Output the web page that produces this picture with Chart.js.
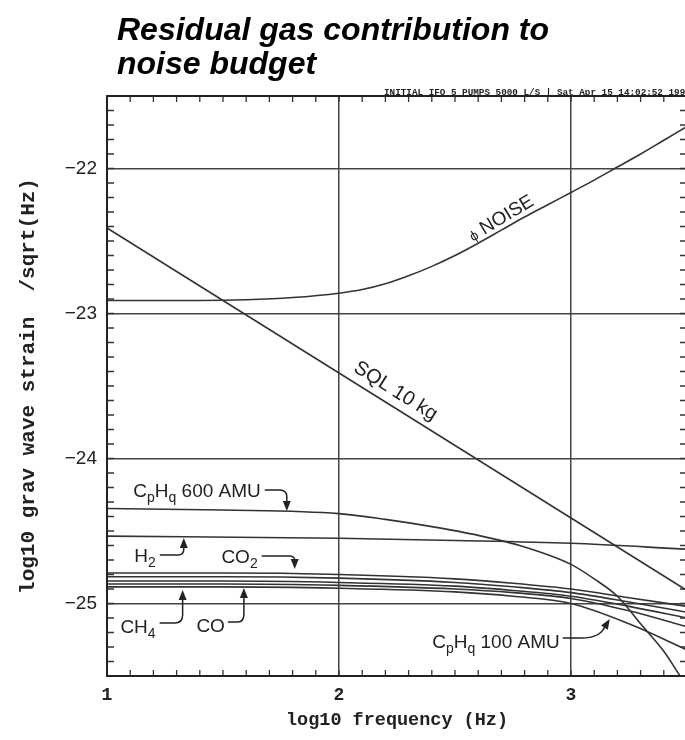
<!DOCTYPE html>
<html>
<head>
<meta charset="utf-8">
<script src="https://cdn.jsdelivr.net/npm/chart.js@4.4.1/dist/chart.umd.min.js"></script>
<style>
  html, body { margin: 0; padding: 0; background: #fff; overflow: hidden; }
  #wrap { position: relative; width: 700px; height: 740px; }
  #chartGas { position: absolute; left: 0; top: 0; }
  #title {
    position: absolute; left: 117px; top: 12px; margin: 0;
    font: italic bold 32px "Liberation Sans", Arial, sans-serif;
    line-height: 34px; color: #000;
  }
</style>
</head>
<body>
<div id="wrap">
  <canvas id="chartGas" width="700" height="740"></canvas>
  <div id="title">Residual gas contribution to<br>noise budget</div>
</div>
<script>
// axes (log10 frequency / log10 strain)
const xTicks = [1, 2, 3];
const yTicks = [-25, -24, -23, -22];

// phase (shot) noise
const phiFreq  = [1.0, 1.2, 1.4, 1.6, 1.8, 2.0, 2.1, 2.2, 2.3, 2.4, 2.5, 2.6, 2.7, 2.8, 2.9, 3.0, 3.1, 3.2, 3.3, 3.4, 3.5];
const phiNoise = [-22.91, -22.91, -22.91, -22.905, -22.89, -22.86, -22.835, -22.795, -22.74, -22.675, -22.60, -22.515, -22.425, -22.335, -22.25, -22.165, -22.08, -21.99, -21.90, -21.805, -21.71];

// standard quantum limit, 10 kg
const sqlFreq = [1, 2, 3, 3.5];
const sql10kg = [-22.41, -23.41, -24.41, -24.91];

// residual gas
const amu600Freq = [1.0, 1.5, 2.0, 2.2, 2.4, 2.6, 2.8, 3.0, 3.1, 3.2, 3.3, 3.4, 3.47];
const amu600     = [-24.345, -24.355, -24.38, -24.42, -24.47, -24.53, -24.61, -24.73, -24.83, -24.95, -25.14, -25.33, -25.5];

const h2Freq = [1, 2, 2.5, 3, 3.5];
const h2     = [-24.535, -24.55, -24.565, -24.585, -24.625];

const gasFreq    = [1.0, 1.5, 2.0, 2.5, 2.75, 3.0, 3.25, 3.5];
const co2        = [-24.79, -24.79, -24.80, -24.83, -24.86, -24.90, -24.96, -25.02];
const unlabelled = [-24.815, -24.815, -24.825, -24.855, -24.885, -24.925, -24.99, -25.06];
const co         = [-24.845, -24.845, -24.855, -24.88, -24.91, -24.95, -25.02, -25.10];
const ch4        = [-24.865, -24.865, -24.875, -24.90, -24.925, -24.965, -25.05, -25.16];
const amu100     = [-24.885, -24.885, -24.895, -24.92, -24.95, -25.0, -25.14, -25.32];

const pts = (xs, ys) => xs.map((v, i) => ({x: v, y: ys[i]}));
const line = (label, xs, ys) => ({
  label: label,
  data: pts(xs, ys),
  borderColor: '#333',
  borderWidth: 1.6,
  pointRadius: 0,
  cubicInterpolationMode: 'monotone',
  fill: false
});

const SANS = '"Liberation Sans", Arial, sans-serif';
const MONO = '"Liberation Mono", "DejaVu Sans Mono", monospace';

// labels with arrows: tip sits on a curve, the rest is pixel offsets from it
const arrowNotes = [
  { parts: [['C'], ['p', 1], ['H'], ['q', 1], [' 600 AMU']], tip: [1.775, -24.362],
    path: [[-22, -21], [-7, -21], [0, -21], [0, -14]], dir: [0, 1], text: [-26, -14] },
  { parts: [['H'], ['2', 1]], tip: [1.331, -24.548],
    path: [[-24, 17], [-6, 17], [0, 17], [0, 11]], dir: [0, -1], text: [-28, 24] },
  { parts: [['CO'], ['2', 1]], tip: [1.809, -24.762],
    path: [[-33, -13], [-6, -13], [0, -13], [0, -9]], dir: [0, 1], text: [-37, -6] },
  { parts: [['CH'], ['4', 1]], tip: [1.326, -24.907],
    path: [[-23, 33], [-8, 33], [0, 33], [0, 25]], dir: [0, -1], text: [-27, 43] },
  { parts: [['CO']], tip: [1.590, -24.893],
    path: [[-16, 34], [-6, 34], [0, 34], [0, 26]], dir: [0, -1], text: [-19, 44] },
  { parts: [['C'], ['p', 1], ['H'], ['q', 1], [' 100 AMU']], tip: [3.167, -25.107],
    path: [[-47, 19], [-28, 19], [-10, 19], [-5, 8]], dir: [0.53, -0.85], text: [-50, 29] }
];

// labels written along a curve
const curveNotes = [
  { parts: [['ϕ', 0, 14], [' NOISE', 0, 19]], at: [2.72, -22.40], angle: -31, lift: 4 },
  { parts: [['SQL 10 kg', 0, 20]], at: [2.21, -23.62], angle: 32, lift: 9 }
];

function partFont(p) {
  if (p[2]) return p[2] + 'px ' + SANS;
  return (p[1] ? 14 : 19) + 'px ' + SANS;
}
function richWidth(ctx, parts) {
  let w = 0;
  parts.forEach(p => { ctx.font = partFont(p); w += ctx.measureText(p[0]).width; });
  return w;
}
function drawRich(ctx, parts, x0, yb) {
  let cx = x0;
  ctx.textAlign = 'left';
  ctx.textBaseline = 'alphabetic';
  parts.forEach(p => {
    ctx.font = partFont(p);
    ctx.fillText(p[0], cx, yb + (p[1] ? 5 : 0));
    cx += ctx.measureText(p[0]).width;
  });
}

const frameNotes = {
  id: 'frameNotes',
  afterDraw(chart) {
    const {ctx, chartArea: a, scales: {x, y}} = chart;
    ctx.save();

    // inward minor ticks every 0.1
    ctx.strokeStyle = '#333';
    ctx.lineWidth = 1.3;
    ctx.beginPath();
    for (let i = 0; i <= 25; i++) {
      const px = x.getPixelForValue(1 + i / 10);
      ctx.moveTo(px, a.bottom); ctx.lineTo(px, a.bottom - 6);
      ctx.moveTo(px, a.top); ctx.lineTo(px, a.top + 6);
    }
    for (let i = 0; i <= 40; i++) {
      const py = y.getPixelForValue(-25.5 + i / 10);
      ctx.moveTo(a.left, py); ctx.lineTo(a.left + 7, py);
      ctx.moveTo(a.right, py); ctx.lineTo(a.right - 7, py);
    }
    ctx.stroke();

    // frame
    ctx.lineWidth = 2;
    ctx.strokeStyle = '#222';
    ctx.strokeRect(a.left, a.top, a.right - a.left, a.bottom - a.top);

    // run stamp
    ctx.fillStyle = '#222';
    ctx.font = 'bold 9.3px ' + MONO;
    ctx.textAlign = 'left';
    ctx.textBaseline = 'alphabetic';
    ctx.fillText('INITIAL IFO 5 PUMPS 5000 L/S | Sat Apr 15 14:02:52 1995', 384, a.top - 1);

    // arrow labels
    ctx.strokeStyle = '#222';
    ctx.fillStyle = '#222';
    ctx.lineWidth = 1.5;
    arrowNotes.forEach(n => {
      const tx = x.getPixelForValue(n.tip[0]);
      const ty = y.getPixelForValue(n.tip[1]);
      const p = n.path.map(o => [tx + o[0], ty + o[1]]);
      const bx = tx - n.dir[0] * 10, by = ty - n.dir[1] * 10;
      ctx.beginPath();
      ctx.moveTo(p[0][0], p[0][1]);
      ctx.lineTo(p[1][0], p[1][1]);
      ctx.quadraticCurveTo(p[2][0], p[2][1], p[3][0], p[3][1]);
      ctx.lineTo(bx, by);
      ctx.stroke();
      const nx = -n.dir[1] * 4, ny = n.dir[0] * 4;
      ctx.beginPath();
      ctx.moveTo(tx, ty);
      ctx.lineTo(bx + nx, by + ny);
      ctx.lineTo(bx - nx, by - ny);
      ctx.closePath();
      ctx.fill();
      const w = richWidth(ctx, n.parts);
      drawRich(ctx, n.parts, tx + n.text[0] - w, ty + n.text[1]);
    });

    // labels along curves
    curveNotes.forEach(n => {
      const ax = x.getPixelForValue(n.at[0]);
      const ay = y.getPixelForValue(n.at[1]);
      ctx.save();
      ctx.translate(ax, ay);
      ctx.rotate(n.angle * Math.PI / 180);
      const w = richWidth(ctx, n.parts);
      drawRich(ctx, n.parts, -w / 2, -n.lift);
      ctx.restore();
    });

    ctx.restore();
  }
};

new Chart('chartGas', {
  type: 'line',
  data: {
    datasets: [
      line('phi noise', phiFreq, phiNoise),
      line('SQL 10 kg', sqlFreq, sql10kg),
      line('CpHq 600 AMU', amu600Freq, amu600),
      line('H2', h2Freq, h2),
      line('CO2', gasFreq, co2),
      line('other', gasFreq, unlabelled),
      line('CO', gasFreq, co),
      line('CH4', gasFreq, ch4),
      line('CpHq 100 AMU', gasFreq, amu100)
    ]
  },
  options: {
    responsive: false,
    animation: false,
    layout: { padding: { top: 96, right: 13, bottom: 0, left: 0 } },
    plugins: { legend: { display: false }, tooltip: { enabled: false } },
    scales: {
      x: {
        type: 'linear',
        min: 1,
        max: 3.5,
        afterBuildTicks: s => { s.ticks = xTicks.map(v => ({value: v})); },
        afterFit: s => { s.height = 64; },
        grid: { color: '#444', lineWidth: 1.5, drawTicks: false },
        border: { display: true, color: '#222', width: 2 },
        ticks: { color: '#222', padding: 9, font: { family: MONO, size: 18, weight: 'bold' } },
        title: {
          display: true,
          text: 'log10 frequency (Hz)',
          color: '#222',
          font: { family: MONO, size: 18.5, weight: 'bold' },
          padding: { top: 0, bottom: 9 }
        }
      },
      y: {
        type: 'linear',
        min: -25.5,
        max: -21.5,
        afterBuildTicks: s => { s.ticks = yTicks.map(v => ({value: v})); },
        afterFit: s => { s.width = 107; },
        grid: { color: '#444', lineWidth: 1.5, drawTicks: false },
        border: { display: true, color: '#222', width: 2 },
        ticks: {
          color: '#222',
          padding: 10,
          font: { family: SANS, size: 19 },
          callback: v => '\u2212' + Math.abs(v)
        },
        title: {
          display: true,
          text: 'log10 grav wave strain  /sqrt(Hz)',
          color: '#222',
          font: { family: MONO, size: 21, weight: 'bold' },
          padding: { top: 16, bottom: 0 }
        }
      }
    }
  },
  plugins: [frameNotes]
});
</script>
</body>
</html>
